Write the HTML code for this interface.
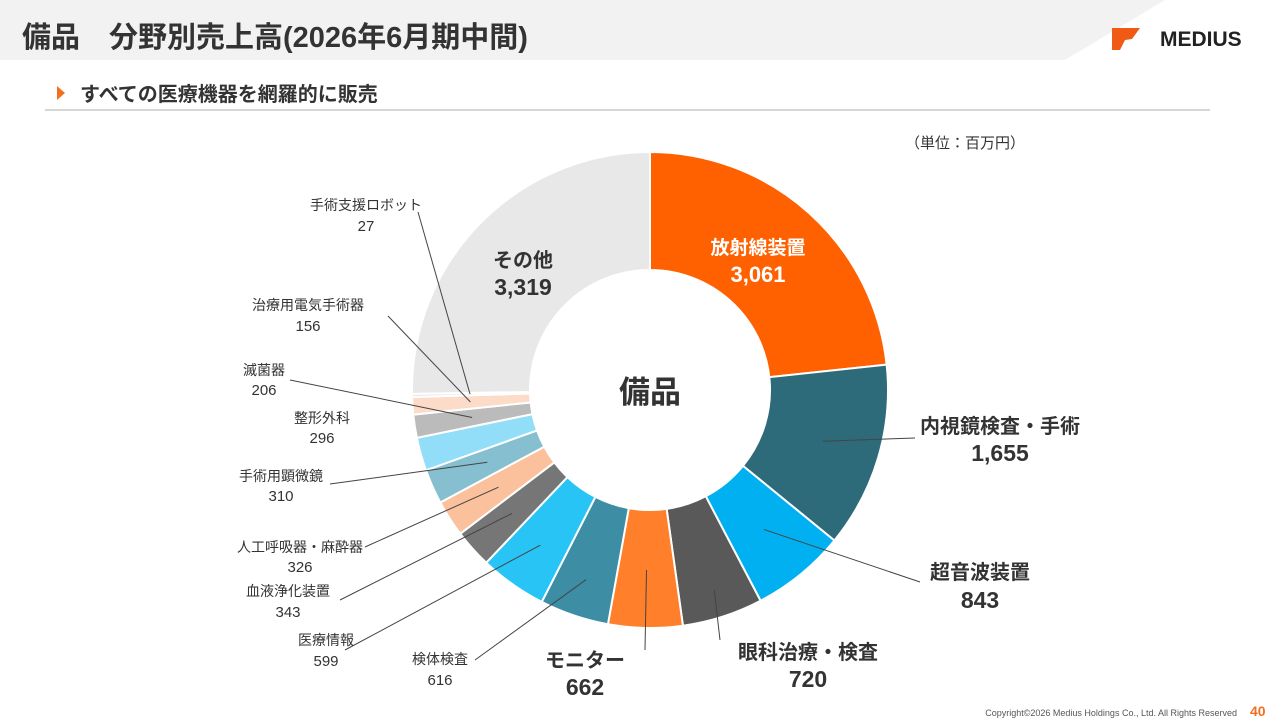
<!DOCTYPE html>
<html lang="ja"><head><meta charset="utf-8">
<style>
body{margin:0;width:1280px;height:720px;overflow:hidden;background:#fff;font-family:"Liberation Sans","Noto Sans CJK JP",sans-serif;position:relative}
.abs{position:absolute}
</style></head><body>
<svg class="abs" style="left:0;top:0" width="1280" height="720">
  <polygon points="0,0 1165,0 1065,60 0,60" fill="#f2f2f2"/>
  <text x="22" y="47" font-size="29" font-weight="bold" fill="#333">備品　分野別売上高(2026年6月期中間)</text>
  <polygon points="1112,28 1140,28 1132,39 1125,40 1120,50 1112,50" fill="#f05a14"/>
  <text x="1160" y="46" font-size="21" font-weight="bold" fill="#222">MEDIUS</text>
  <polygon points="57,86 65,93 57,100" fill="#f07020"/>
  <text x="80" y="101" font-size="20" font-weight="bold" fill="#333">すべての医療機器を網羅的に販売</text>
  <line x1="45" y1="110" x2="1210" y2="110" stroke="#c8c8c8" stroke-width="1.5"/>
  <text x="905" y="148" font-size="15" fill="#333">（単位：百万円）</text>
  <g id="chart"></g>
  <text x="650" y="403" font-size="31" font-weight="bold" fill="#333" text-anchor="middle">備品</text>
  <text x="1237" y="716" font-size="9" fill="#555" text-anchor="end">Copyright©2026 Medius Holdings Co., Ltd. All Rights Reserved</text>
  <text x="1250" y="716" font-size="14" font-weight="bold" fill="#f07020">40</text>
</svg>
<script>
const categories=["放射線装置","内視鏡検査・手術","超音波装置","眼科治療・検査","モニター","検体検査","医療情報","血液浄化装置","人工呼吸器・麻酔器","手術用顕微鏡","整形外科","滅菌器","治療用電気手術器","手術支援ロボット","その他"];
const values=[3061,1655,843,720,662,616,599,343,326,310,296,206,156,27,3319];
const valueLabels=["3,061","1,655","843","720","662","616","599","343","326","310","296","206","156","27","3,319"];
const colors=["#ff6000","#2e6b7a","#00b0f0","#595959","#ff7f2a","#3d8ea5","#29c4f6","#767676","#fbc09c","#86c0d0","#92def8","#bbbbbb","#fcdcc8","#e4e4e4","#e8e8e8"];
// label layout: [x, nameY, valueY, size, color, leaderX, leaderY] (leaderX null = none)
const layout=[[758,254,282,19,"#fff",null,null],[1000,433,461,20,"#333",915,438],[980,579,608,20,"#333",920,582],[808,659,687,20,"#333",720,640],[585,667,695,20,"#333",645,650],[440,664,685,14,"#333",475,660],[326,645,666,14,"#333",345,650],[288,596,617,14,"#333",340,600],[300,552,572,14,"#333",365,547],[281,481,501,14,"#333",330,484],[322,423,443,14,"#333",null,null],[264,375,395,14,"#333",290,380],[308,310,331,14,"#333",388,316],[366,210,231,14,"#333",418,212],[523,267,295,20,"#333",null,null]];
const leaderR=[0,180,180,210,180,200,190,185,180,178,0,180,180,180,0];
const cx=650,cy=390,R=238,r=120;
const total=values.reduce((a,b)=>a+b,0);
const g=document.getElementById('chart');
const NS="http://www.w3.org/2000/svg";
function pt(a,rad){return [cx+rad*Math.sin(a),cy-rad*Math.cos(a)];}
function ang(v){return v/total*2*Math.PI;}
let acc=0;
values.forEach((v,i)=>{
  const a0=ang(acc),a1=ang(acc+v);acc+=v;
  const large=(a1-a0)>Math.PI?1:0;
  const p0=pt(a0,R),p1=pt(a1,R),q1=pt(a1,r),q0=pt(a0,r);
  const p=document.createElementNS(NS,'path');
  p.setAttribute('d',`M${p0[0]},${p0[1]}A${R},${R} 0 ${large} 1 ${p1[0]},${p1[1]}L${q1[0]},${q1[1]}A${r},${r} 0 ${large} 0 ${q0[0]},${q0[1]}Z`);
  p.setAttribute('fill',colors[i]);p.setAttribute('stroke','#fff');p.setAttribute('stroke-width','2');
  
  
  g.appendChild(p);
});
acc=0;
values.forEach((v,i)=>{
  const am=ang(acc+v/2);acc+=v;
  const L=layout[i];
  if(L[5]!==null){
    const e=pt(am,leaderR[i]);
    const ln=document.createElementNS(NS,'line');
    ln.setAttribute('x1',L[5]);ln.setAttribute('y1',L[6]);ln.setAttribute('x2',e[0]);ln.setAttribute('y2',e[1]);
    ln.setAttribute('stroke','#444');ln.setAttribute('stroke-width','1');
    
    
    g.appendChild(ln);
  }
  const t1=document.createElementNS(NS,'text');
  t1.setAttribute('x',L[0]);t1.setAttribute('y',L[1]);t1.setAttribute('text-anchor','middle');
  t1.setAttribute('font-size',L[3]);t1.setAttribute('fill',L[4]);t1.setAttribute('font-weight',L[3]>15?'bold':'normal');
  t1.textContent=categories[i];
  
  
  g.appendChild(t1);
  const t2=document.createElementNS(NS,'text');
  t2.setAttribute('x',L[0]);t2.setAttribute('y',L[2]);t2.setAttribute('text-anchor','middle');
  t2.setAttribute('font-size',L[3]>15?L[3]+3:L[3]+1);t2.setAttribute('fill',L[4]);t2.setAttribute('font-weight',L[3]>15?'bold':'normal');
  t2.textContent=valueLabels[i];
  
  
  g.appendChild(t2);
});
</script>
</body></html>
